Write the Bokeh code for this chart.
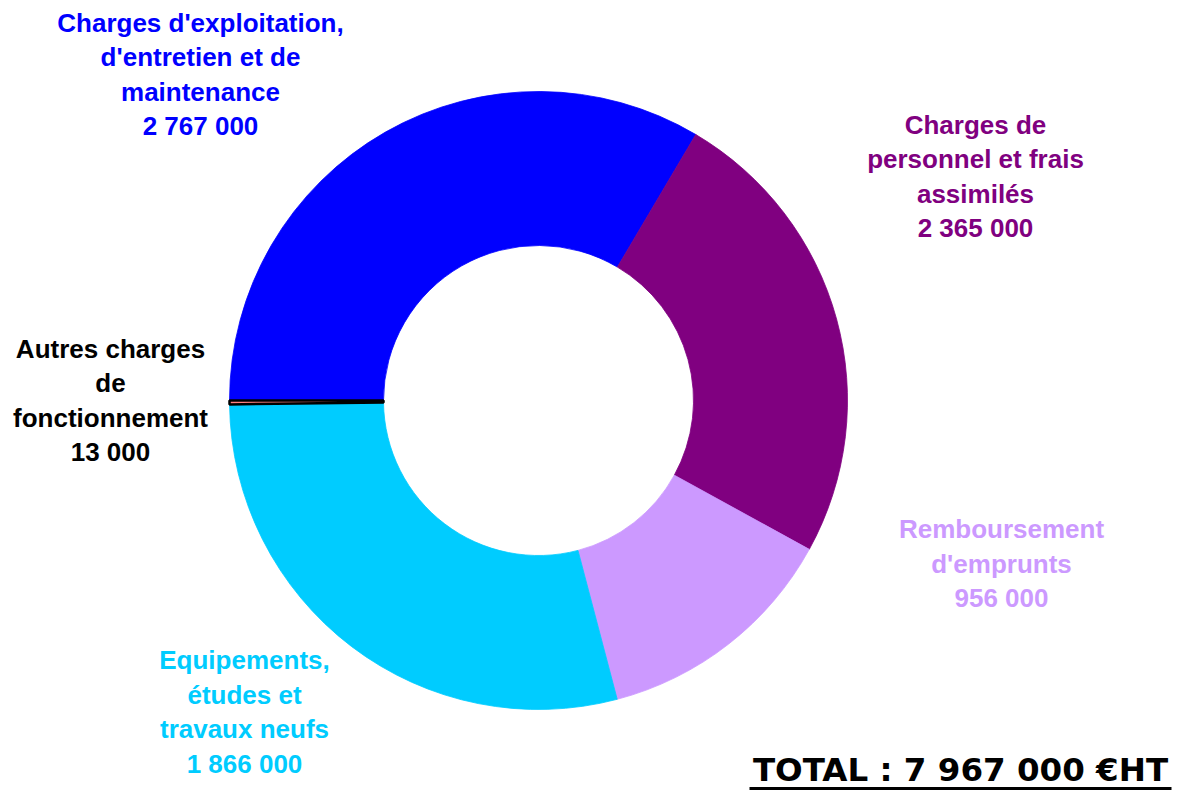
import math
from bokeh.plotting import figure
from bokeh.models import Range1d, ColumnDataSource
from bokeh.core.properties import value
from bokeh.embed import file_html
from bokeh.resources import INLINE

# ---- data ----
categories = [
    "Charges d'exploitation,\nd'entretien et de\nmaintenance",
    "Charges de\npersonnel et frais\nassimilés",
    "Remboursement\nd'emprunts",
    "Equipements,\nétudes et\ntravaux neufs",
    "Autres charges\nde\nfonctionnement",
]
amounts = [2767000, 2365000, 956000, 1866000, 13000]
# slice sizes as drawn in the reference (percent of the ring)
slice_shares_pct = [33.5, 24.5, 12.9, 28.9, 0.2]
total_label = "TOTAL : 7 967 000 €HT"

# ---- styles / layout ----
fill_colors = ["#0000FF", "#800080", "#CC99FF", "#00CCFF", "#FF8080"]
text_colors = ["#0000FF", "#800080", "#CC99FF", "#00CCFF", "#000000"]
label_xy_img = [(200, 74), (975, 176), (1001, 563), (244, 711.5), (110, 400)]

W, H = 1181, 791
def Y(img_y):
    return H - img_y

cx, cy = 538, Y(400)
r_out, r_in = 309, 155

p = figure(width=W, height=H, output_backend="svg", toolbar_location=None,
           x_range=Range1d(0, W), y_range=Range1d(0, H),
           x_axis_type=None, y_axis_type=None, min_border=0)
p.grid.visible = False
p.outline_line_color = None
p.background_fill_color = "white"
p.border_fill_color = "white"

# cumulative angles, clockwise from 9 o'clock
start_deg = 180.0
starts, ends = [], []
cum = 0.0
for s in slice_shares_pct:
    a0 = start_deg - cum * 3.6
    cum += s
    a1 = start_deg - cum * 3.6
    starts.append(math.radians(a0))
    ends.append(math.radians(a1))

src = ColumnDataSource(dict(x=[cx] * 4, y=[cy] * 4, start=starts[:4], end=ends[:4],
                            color=fill_colors[:4]))
p.annular_wedge(x="x", y="y", inner_radius=r_in, outer_radius=r_out,
                start_angle="start", end_angle="end", direction="clock",
                fill_color="color", line_color="color", line_width=0.8, source=src)
# small slice with black outline
p.annular_wedge(x=cx, y=cy, inner_radius=r_in, outer_radius=r_out,
                start_angle=starts[4], end_angle=ends[4], direction="clock",
                fill_color=fill_colors[4], line_color="black", line_width=2.5)

# labels
texts = [c + "\n" + f"{a:,}".replace(",", " ") for c, a in zip(categories, amounts)]
lsrc = ColumnDataSource(dict(x=[xy[0] for xy in label_xy_img],
                             y=[Y(xy[1]) for xy in label_xy_img],
                             text=texts, color=text_colors))
p.text(x="x", y="y", text="text", text_color="color", source=lsrc,
       text_font=value("Liberation Sans"), text_font_style="bold",
       text_font_size="26px", text_align="center", text_baseline="middle",
       text_line_height=1.15)

# total
p.text(x=[960], y=[Y(769)], text=[total_label], text_color="black",
       text_font=value("DejaVu Sans"), text_font_style="bold",
       text_font_size="32.5px", text_align="center", text_baseline="middle")
p.segment(x0=[749], y0=[Y(788)], x1=[1171], y1=[Y(788)],
          line_color="black", line_width=3)

open("out.html", "w").write(file_html(p, INLINE))
